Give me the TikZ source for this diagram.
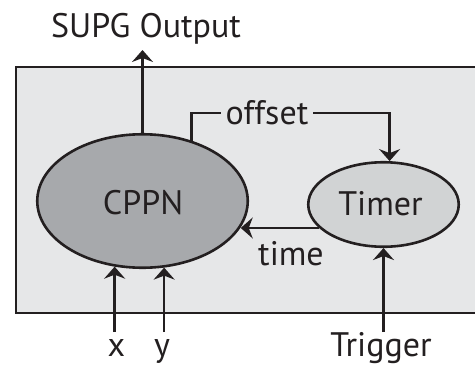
\documentclass[tikz,border=0pt]{standalone}
\usepackage{fontspec}
\setmainfont{PT Sans}
\usetikzlibrary{arrows.meta,shapes.geometric,calc}
\definecolor{ink}{HTML}{231F20}
\definecolor{boxgray}{HTML}{E6E7E8}
\definecolor{cppngray}{HTML}{A7A9AC}
\definecolor{timergray}{HTML}{D1D3D4}
\begin{document}
\begin{tikzpicture}[x=1pt,y=-1pt,
  txt/.style={font=\fontsize{34}{39}\selectfont, text=ink, inner sep=0pt},
  lbl/.style={txt, anchor=base},
  arr/.style={draw=ink, line width=2.7pt, -{Stealth[length=12pt,width=21pt,inset=4pt]}},
  plain/.style={draw=ink, line width=2.7pt},
  blob/.style={ellipse, draw=ink, line width=2.6pt, inner sep=0pt}]
\useasboundingbox (0,0) rectangle (475,365);
% enclosing box (right side runs off the picture)
\fill[boxgray] (16,67) rectangle (478,313);
\draw[plain, line width=2.5pt] (478,67) -- (16,67) -- (16,313) -- (478,313);
% nodes
\node[blob, fill=cppngray, minimum width=210.5pt, minimum height=133.5pt] (cppn) at (142.5,201) {};
\node[blob, fill=timergray, minimum width=150.5pt, minimum height=84.5pt] (timer) at (383.5,204.5) {};
% labels
\node[lbl] (cppnl) at (143,214) {CPPN};
\node[lbl] (timerl) at (380.5,215) {Timer};
\node[lbl] (supg) at (146,37) {SUPG Output};
\node[lbl] (xl) at (116.5,356) {x};
\node[lbl] (yl) at (162,356) {y};
\node[lbl] (trig) at (381,356) {Trigger};
\node[lbl] (timel) at (291,265) {time};
% free ends
\coordinate (so) at (0,50);
\coordinate (oc) at (0,113);
\coordinate (inb) at (0,332);
% connectors
\draw[arr] (cppn.north) -- (cppn.north |- so);
\draw[arr] (cppn.51.4) -- (cppn.51.4 |- oc) -| (timer.82.6);
\node[lbl, fill=boxgray, inner xsep=5pt, inner ysep=2pt] (offl) at (267,124) {offset};
\draw[arr] (timer.200.6) -- (cppn.-15.67 |- timer.200.6);
\draw[arr] (cppn.247.7 |- inb) -- (cppn.247.7);
\draw[arr] (cppn.288.2 |- inb) -- (cppn.288.2);
\draw[arr] (timer.south |- inb) -- (timer.south);
\end{tikzpicture}
\end{document}
